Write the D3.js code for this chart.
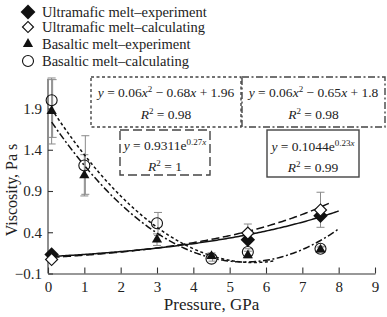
<!DOCTYPE html>
<html>
<head>
<meta charset="utf-8">
<script src="https://cdn.jsdelivr.net/npm/d3@7"></script>
<style>
  body { margin: 0; background: #fff; }
</style>
</head>
<body>
<div id="chart"></div>
<script>
// points
const pressureU = [0.1, 5.5, 7.5];
const ultraExp = [0.13, 0.31, 0.60];
const ultraCalc = [0.07, 0.39, 0.67];
const ultraErrLow = [null, 0.28, 0.46];
const ultraErrHigh = [null, 0.50, 0.885];

const pressureB = [0.1, 1, 3, 4.5, 5.5, 7.5];
const basaltExp = [1.87, 1.09, 0.31, 0.11, 0.12, 0.19];
const basaltCalc = [2.0, 1.21, 0.51, 0.08, 0.16, 0.20];
const basaltExpErrLow = [1.47, 0.84, 0.24, 0.08, 0.09, 0.16];
const basaltExpErrHigh = [2.27, 1.34, 0.38, 0.15, 0.17, 0.22];
const basaltCalcErrLow = [1.55, 0.86, 0.36, 0.05, 0.12, 0.17];
const basaltCalcErrHigh = [2.25, 1.57, 0.64, 0.12, 0.20, 0.23];

const xTicks = [0, 1, 2, 3, 4, 5, 6, 7, 8, 9];
const yTicks = [-0.1, 0.4, 0.9, 1.4, 1.9];

// trend lines (coefficients from the boxes)
const fitUltraExp = { a: 0.1044, b: 0.23, from: 0.1, to: 8 };
const fitUltraCalc = { a: 0.09311, b: 0.27, from: 0.1, to: 7.8 };
const fitBasaltCalc = { c: [0.06, -0.68, 1.96], from: 0.1, to: 6.2 };
const fitBasaltExp = { c: [0.06, -0.65, 1.8], from: 0.1, to: 8 };

const legendLabels = [
  "Ultramafic melt\u2013experiment",
  "Ultramafic melt\u2013calculating",
  "Basaltic melt\u2013experiment",
  "Basaltic melt\u2013calculating"
];

const SERIF = "'Liberation Serif', 'DejaVu Serif', serif";

function drawChart() {
  const width = 387, height = 317;
  const svg = d3.select("#chart").append("svg")
    .attr("width", width).attr("height", height)
    .style("font-family", SERIF);

  const x = d3.scaleLinear().domain([0, 9]).range([48, 375]);
  const y = d3.scaleLinear().domain([-0.1, 1.9]).range([273.5, 108.5]);
  const yTop = 2.26;

  // axes
  const xAxis = svg.append("g")
    .attr("transform", `translate(0,${y(-0.1)})`)
    .call(d3.axisBottom(x).tickValues(xTicks).tickSize(-6).tickSizeOuter(0).tickPadding(8).tickFormat(d3.format("d")));
  const yAxis = svg.append("g")
    .attr("transform", `translate(${x(0)},0)`)
    .call(d3.axisLeft(y).tickValues(yTicks).tickSize(-5).tickSizeOuter(0).tickPadding(6).tickFormat(d3.format(".1f")));
  yAxis.select(".domain").attr("d", `M0,${y(-0.1)}V${y(yTop)}`);
  [xAxis, yAxis].forEach(g => {
    g.attr("font-family", null);
    g.selectAll("path, line").attr("stroke", "#333").attr("stroke-width", 1.1);
    g.selectAll("text").attr("font-size", 15).attr("fill", "#222")
      .style("font-family", SERIF);
  });

  svg.append("text")
    .attr("x", (x(0) + x(9)) / 2).attr("y", 310)
    .attr("text-anchor", "middle").attr("font-size", 17).attr("fill", "#222")
    .style("font-family", SERIF)
    .text("Pressure, GPa");
  svg.append("text")
    .attr("transform", "translate(17,190) rotate(-90)")
    .attr("text-anchor", "middle").attr("font-size", 16).attr("fill", "#222")
    .style("font-family", SERIF)
    .text("Viscosity, Pa s");

  // error bars
  const errG = svg.append("g").attr("stroke", "#8a8a8a").attr("stroke-width", 1);
  function errBars(xs, lo, hi, dx) {
    xs.forEach((p, i) => {
      if (lo[i] == null) return;
      const cx = x(p) + dx;
      errG.append("line").attr("x1", cx).attr("x2", cx).attr("y1", y(lo[i])).attr("y2", y(hi[i]));
      [lo[i], hi[i]].forEach(v => errG.append("line")
        .attr("x1", cx - 4).attr("x2", cx + 4).attr("y1", y(v)).attr("y2", y(v)));
    });
  }
  errBars(pressureB, basaltExpErrLow, basaltExpErrHigh, 0);
  errBars(pressureB, basaltCalcErrLow, basaltCalcErrHigh, 1);
  errBars(pressureU, ultraErrLow, ultraErrHigh, 0);

  // trend curves
  const line = d3.line().x(d => x(d[0])).y(d => y(d[1])).curve(d3.curveLinear);
  function expCurve(f) {
    return d3.range(f.from, f.to + 0.001, 0.05).map(p => [p, f.a * Math.exp(f.b * p)]);
  }
  function polyCurve(f) {
    return d3.range(f.from, f.to + 0.001, 0.05).map(p => [p, f.c[0] * p * p + f.c[1] * p + f.c[2]]);
  }
  const curves = [
    { pts: expCurve(fitUltraExp), dash: null },
    { pts: expCurve(fitUltraCalc), dash: "8,3.5" },
    { pts: polyCurve(fitBasaltCalc), dash: "3,2.5" },
    { pts: polyCurve(fitBasaltExp), dash: "7,2.5,2,2.5" }
  ];
  curves.forEach(c => {
    svg.append("path").datum(c.pts)
      .attr("d", line).attr("fill", "none")
      .attr("stroke", "#111").attr("stroke-width", 1.5)
      .attr("stroke-dasharray", c.dash);
  });

  // markers
  const diamondBig = d3.symbol().type(d3.symbolSquare).size(105);
  const diamondSmall = d3.symbol().type(d3.symbolSquare).size(72);
  const tri = d3.symbol().type(d3.symbolTriangle).size(45);

  svg.selectAll(".ue").data(pressureU).enter().append("path")
    .attr("class", "ue")
    .attr("d", diamondBig)
    .attr("transform", (d, i) => `translate(${x(d)},${y(ultraExp[i])}) rotate(45)`)
    .attr("fill", "#111");
  svg.selectAll(".uc").data(pressureU).enter().append("path")
    .attr("class", "uc")
    .attr("d", diamondSmall)
    .attr("transform", (d, i) => `translate(${x(d)},${y(ultraCalc[i])}) rotate(45)`)
    .attr("fill", "#fff").attr("stroke", "#111").attr("stroke-width", 1.2);
  svg.selectAll(".bc").data(pressureB).enter().append("circle")
    .attr("class", "bc")
    .attr("cx", d => x(d)).attr("cy", (d, i) => y(basaltCalc[i])).attr("r", 5.5)
    .attr("fill", "none").attr("stroke", "#111").attr("stroke-width", 1.1);
  svg.selectAll(".be").data(pressureB).enter().append("path")
    .attr("class", "be")
    .attr("d", tri)
    .attr("transform", (d, i) => `translate(${x(d)},${y(basaltExp[i])})`)
    .attr("fill", "#111");

  // equation boxes
  const boxes = [
    { x0: 91, x1: 241, y0: 77, y1: 127, dash: "3,2.5", lines: [
      [["y", true], [" = 0.06", false], ["x", true], ["2", false, "sup"], [" \u2212 0.68", false], ["x", true], [" + 1.96", false]],
      [["R", true], ["2", false, "sup"], [" = 0.98", false]] ], base: [97, 119] },
    { x0: 242, x1: 385, y0: 77, y1: 127, dash: "7,2.5,2,2.5", lines: [
      [["y", true], [" = 0.06", false], ["x", true], ["2", false, "sup"], [" \u2212 0.65", false], ["x", true], [" + 1.8", false]],
      [["R", true], ["2", false, "sup"], [" = 0.98", false]] ], base: [97, 119] },
    { x0: 120, x1: 210, y0: 130, y1: 175, dash: "9,4", lines: [
      [["y", true], [" = 0.9311e", false], ["0.27", false, "sup"], ["x", true, "sup2"]],
      [["R", true], ["2", false, "sup"], [" = 1", false]] ], base: [150, 171] },
    { x0: 267, x1: 359, y0: 130, y1: 177, dash: null, lines: [
      [["y", true], [" = 0.1044e", false], ["0.23", false, "sup"], ["x", true, "sup2"]],
      [["R", true], ["2", false, "sup"], [" = 0.99", false]] ], base: [151, 172] }
  ];
  boxes.forEach(b => {
    svg.append("rect")
      .attr("x", b.x0).attr("y", b.y0)
      .attr("width", b.x1 - b.x0).attr("height", b.y1 - b.y0)
      .attr("fill", "#fff").attr("stroke", "#444").attr("stroke-width", 1.4)
      .attr("stroke-dasharray", b.dash);
    b.lines.forEach((parts, li) => {
      const t = svg.append("text")
        .attr("x", (b.x0 + b.x1) / 2).attr("y", b.base[li])
        .attr("text-anchor", "middle").attr("font-size", 13.5).attr("fill", "#222")
        .style("font-family", SERIF);
      parts.forEach((p, k) => {
        const s = t.append("tspan").text(p[0]);
        if (p[1]) s.attr("font-style", "italic");
        if (p[2] === "sup") s.attr("font-size", 9).attr("dy", -5);
        else if (p[2] === "sup2") s.attr("font-size", 9);
        else {
          const prev = parts[k - 1];
          if (prev && prev[2]) s.attr("dy", 5);
        }
      });
    });
  });

  // legend
  const legY = [12, 27, 44, 61];
  const lg = svg.append("g");
  legendLabels.forEach((lab, i) => {
    lg.append("text").attr("x", 42).attr("y", legY[i] + 5)
      .attr("font-size", 14.5).attr("fill", "#222")
      .style("font-family", SERIF)
      .text(lab);
  });
  lg.append("path").attr("d", d3.symbol().type(d3.symbolSquare).size(110))
    .attr("transform", `translate(28,${legY[0]}) rotate(45)`).attr("fill", "#111");
  lg.append("path").attr("d", d3.symbol().type(d3.symbolSquare).size(60))
    .attr("transform", `translate(28,${legY[1]}) rotate(45)`)
    .attr("fill", "#fff").attr("stroke", "#111").attr("stroke-width", 1.2);
  lg.append("path").attr("d", d3.symbol().type(d3.symbolTriangle).size(45))
    .attr("transform", `translate(28,${legY[2]})`).attr("fill", "#111");
  lg.append("circle").attr("cx", 28).attr("cy", legY[3]).attr("r", 5.5)
    .attr("fill", "none").attr("stroke", "#111").attr("stroke-width", 1.1);
}

drawChart();
</script>
</body>
</html>
